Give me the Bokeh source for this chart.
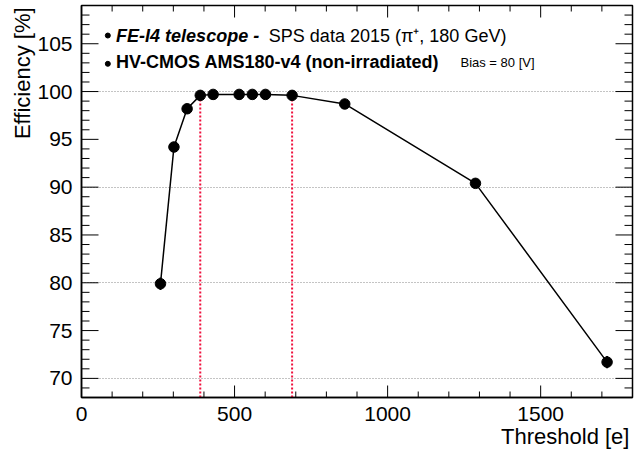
import math
from bokeh.plotting import figure
from bokeh.models import LinearAxis, SingleIntervalTicker, Range1d, Label, ColumnDataSource
from bokeh.core.properties import value
from bokeh.embed import file_html
from bokeh.resources import INLINE

# ---- data ----
threshold = [258, 302, 345, 388, 430, 515, 558, 601, 688, 860, 1287, 1717]
efficiency = [79.9, 94.2, 98.2, 99.6, 99.7, 99.7, 99.7, 99.7, 99.6, 98.7, 90.4, 71.7]
eff_err = [0.65, 0.3, 0.2, 0.1, 0.1, 0.1, 0.1, 0.1, 0.1, 0.1, 0.25, 0.65]
cut_index = [3, 8]  # points marked with red dotted lines
x_major_step, x_minor_step = 500, 100
y_major_step, y_minor_step = 5, 1
grid_step = 10

X0, X1 = 0, 1800
Y0, Y1 = 68, 109
FONT = "Liberation Sans"

p = figure(width=634, height=452, output_backend="svg", toolbar_location=None,
           x_range=Range1d(X0, X1), y_range=Range1d(Y0, Y1),
           min_border_left=81, min_border_right=2, min_border_top=5,
           min_border_bottom=55, x_axis_location=None, y_axis_location=None)
p.background_fill_color = "white"
p.border_fill_color = "white"
p.outline_line_color = "black"
p.outline_line_width = 1.5

def style_axis(ax, standoff):
    ax.axis_line_color = "black"
    ax.axis_line_width = 1.5
    ax.major_tick_in = 0
    ax.major_tick_out = 0
    ax.minor_tick_in = 0
    ax.minor_tick_out = 0
    ax.major_label_text_font = FONT
    ax.major_label_text_font_size = "21px"
    ax.major_label_text_color = "black"
    ax.major_label_standoff = standoff

xb = LinearAxis(ticker=SingleIntervalTicker(interval=x_major_step, num_minor_ticks=5))
style_axis(xb, 9)
p.add_layout(xb, "below")
yl = LinearAxis(ticker=SingleIntervalTicker(interval=y_major_step, num_minor_ticks=5))
style_axis(yl, 9)
p.add_layout(yl, "left")

p.xgrid.visible = False
p.ygrid.ticker = SingleIntervalTicker(interval=grid_step)
p.ygrid.grid_line_color = "#888888"
p.ygrid.grid_line_dash = "1 2"
p.ygrid.grid_line_width = 1

# ROOT-style inward ticks on all four sides
x_major = list(range(X0, X1 + 1, x_major_step))
x_minor = [v for v in range(X0, X1 + 1, x_minor_step) if v % x_major_step]
y_major = [v for v in range(Y0, Y1 + 1, y_minor_step) if v % y_major_step == 0]
y_minor = [v for v in range(Y0 + 1, Y1, y_minor_step) if v % y_major_step]
tick_style = dict(line_color="black", line_width=1, length_units="screen")
for xs, ln in ((x_major, 12), (x_minor, 6)):
    p.ray(x=xs, y=[Y0] * len(xs), length=ln, angle=math.pi / 2, **tick_style)
    p.ray(x=xs, y=[Y1] * len(xs), length=ln, angle=-math.pi / 2, **tick_style)
for ys, ln in ((y_major, 17), (y_minor, 8)):
    p.ray(x=[X0] * len(ys), y=ys, length=ln, angle=0, **tick_style)
    p.ray(x=[X1] * len(ys), y=ys, length=ln, angle=math.pi, **tick_style)

# red dotted lines at selected thresholds
p.segment(x0=[threshold[i] for i in cut_index], x1=[threshold[i] for i in cut_index],
          y0=[Y0] * len(cut_index), y1=[efficiency[i] for i in cut_index],
          line_color="#f0103c", line_width=2, line_dash="2 2")

src = ColumnDataSource(dict(x=threshold, y=efficiency,
                            lo=[e - d for e, d in zip(efficiency, eff_err)],
                            hi=[e + d for e, d in zip(efficiency, eff_err)]))
p.line("x", "y", source=src, line_color="black", line_width=1.5)
p.segment(x0="x", x1="x", y0="lo", y1="hi", source=src, line_color="black", line_width=2)
p.scatter("x", "y", source=src, size=10.5, color="black")

# legend-like texts
p.scatter(x=[86, 86], y=[105.86, 102.9], size=5, color="black")
p.text(x=[113], y=[105.76], text=["FE-I4 telescope -"], text_font=value(FONT),
       text_font_style="bold italic", text_font_size="18px", text_baseline="alphabetic")
p.text(x=[612], y=[105.76], text=["SPS data 2015 (\u03c0\u207a, 180 GeV)"], text_font=value(FONT),
       text_font_size="18px", text_baseline="alphabetic")
p.text(x=[113], y=[103.04], text=["HV-CMOS AMS180-v4 (non-irradiated)"], text_font=value(FONT),
       text_font_style="bold", text_font_size="18px", text_baseline="alphabetic")
p.text(x=[1238], y=[103.04], text=["Bias = 80 [V]"], text_font=value(FONT),
       text_font_size="13px", text_baseline="alphabetic")

# axis titles (in side panels so they are not clipped to the frame)
p.add_layout(Label(x=-193, y=Y1 - 0.2, text="Efficiency [%]", angle=math.pi / 2,
                   text_align="right", text_baseline="alphabetic",
                   text_font=FONT, text_font_size="22px", text_color="black"), "left")
p.add_layout(Label(x=1790, y=63.9, text="Threshold [e]",
                   text_align="right", text_baseline="alphabetic",
                   text_font=FONT, text_font_size="22px", text_color="black"), "below")

open("out.html", "w").write(file_html(p, INLINE))
